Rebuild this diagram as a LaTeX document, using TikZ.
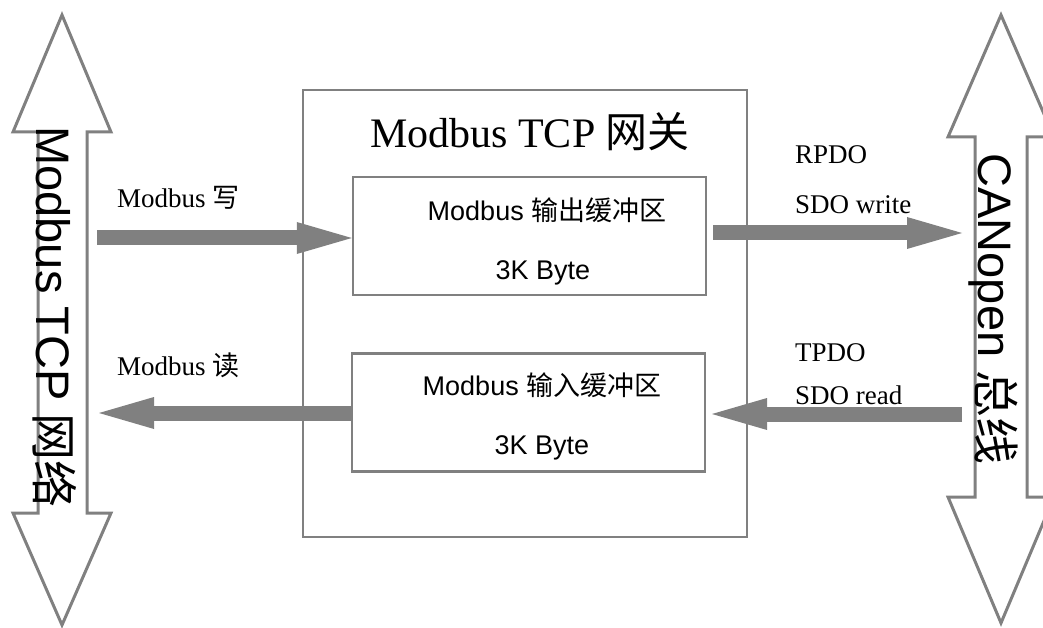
\documentclass[tikz,border=0pt]{standalone}
\usepackage{fontspec}
\setmainfont{Liberation Serif}
\newfontfamily\arial{Liberation Sans}
\newfontfamily\cjk{Noto Sans CJK SC}
\usepackage{tikz}
\usetikzlibrary{arrows.meta}
\definecolor{linegray}{RGB}{128,128,128}
\tikzset{
  busarrow/.style={draw=linegray,fill=white,line width=3pt,line join=miter},
  buffer/.style={draw=linegray,line width=2.5pt,minimum width=353pt,minimum height=118pt},
  fatarrow/.style={draw=linegray,line width=15pt,-{Triangle[length=55pt,width=32pt,line width=0pt]}},
  lbl/.style={anchor=west,inner sep=0pt,font=\fontsize{27}{32}\selectfont}
}
\begin{document}
\begin{tikzpicture}[x=1pt,y=-1pt]
            \useasboundingbox (0,0) rectangle (1043,628);
            \clip (0,0) rectangle (1043,628);
            \draw[busarrow] (62,15) coordinate (Ltop) -- (111,132) -- (87,132) -- (87,513) -- (111,513)
            -- (62,625) coordinate (Lbot) -- (13,513) -- (38,513) -- (38,132) -- (13,132) -- cycle;
            \draw[busarrow] (1001,15) coordinate (Rtop) -- (1054,137) -- (1027,137) -- (1027,497) -- (1054,497)
            -- (1001,623) coordinate (Rbot) -- (948,497) -- (975,497) -- (975,137) -- (948,137) -- cycle;
            \node[rotate=-90,font=\arial\fontsize{47}{56}\selectfont] (tcpnet) at (55,317) {Modbus TCP {\cjk 网络}};
            \node[rotate=-90,font=\arial\fontsize{47}{56}\selectfont] (canbus) at (993,309) {CANopen {\cjk 总线}};
            \node[draw=linegray,line width=2.5pt,minimum width=444pt,minimum height=447pt] (gateway) at (525,313.5) {};
            \node[font=\fontsize{42}{50}\selectfont] (gwtitle) at (530,132) {Modbus TCP {\cjk 网关}};
            \node[buffer] (obuf) at (529.5,236) {};
            \node[buffer] (ibuf) at (528.5,412.5) {};
            \node[font=\arial\fontsize{27}{32}\selectfont] (oname) at (547,210) {Modbus {\cjk 输出缓冲区}};
            \node[font=\arial\fontsize{27}{32}\selectfont] (osize) at (543,273) {3K Byte};
            \node[font=\arial\fontsize{27}{32}\selectfont] (iname) at (542,385) {Modbus {\cjk 输入缓冲区}};
            \node[font=\arial\fontsize{27}{32}\selectfont] (isize) at (542,448) {3K Byte};
            \coordinate (wr) at (97,238);
            \coordinate (rd) at (99,413);
            \coordinate (rpdoS) at (713,233);
            \coordinate (rpdoE) at (962,233);
            \coordinate (tpdoS) at (962,414);
            \coordinate (tpdoE) at (712,414);
            \draw[fatarrow] (wr) -- (obuf.west |- wr);
            \draw[fatarrow] (ibuf.west |- rd) -- (rd);
            \draw[fatarrow] (rpdoS) -- (rpdoE);
            \draw[fatarrow] (tpdoS) -- (tpdoE);
            \node[lbl] (wrlbl) at (117,198) {Modbus {\cjk 写}};
            \node[lbl] (rdlbl) at (117,365) {Modbus {\cjk 读}};
            \node[lbl] (rpdo) at (795,155) {RPDO};
            \node[lbl] (sdowr) at (795,205) {SDO write};
            \node[lbl] (tpdo) at (795,353) {TPDO};
            \node[lbl] (sdord) at (795,395) {SDO read};
          \end{tikzpicture}
\end{document}
